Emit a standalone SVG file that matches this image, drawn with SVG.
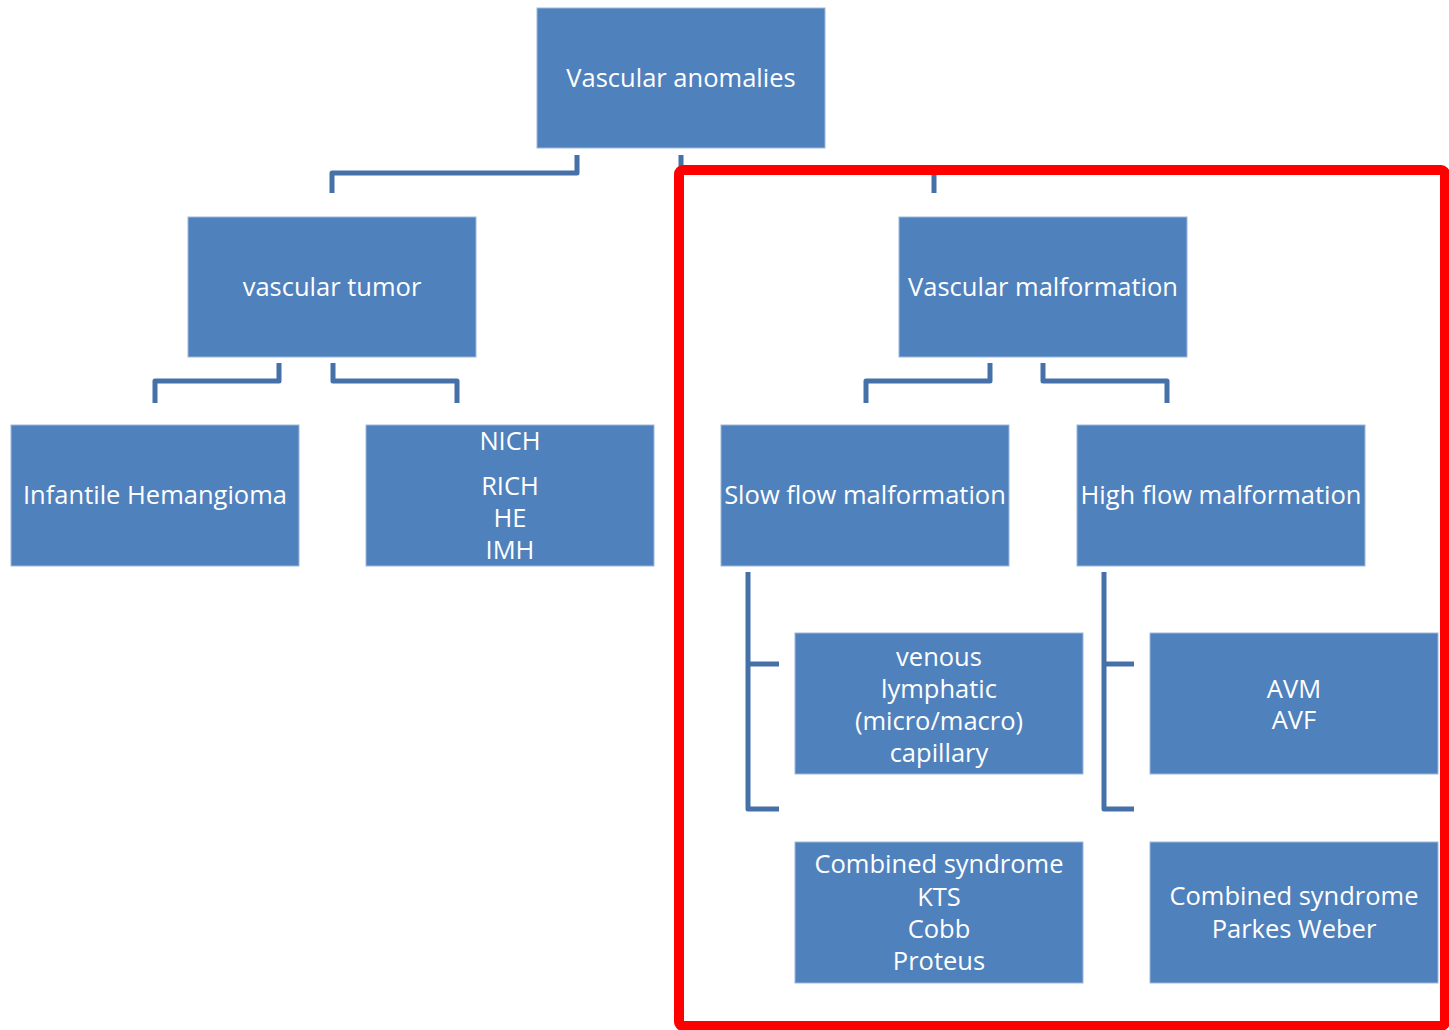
<svg xmlns="http://www.w3.org/2000/svg" width="1449" height="1030" viewBox="0 0 1449 1030">
<style>
.box{fill:#4F81BD;stroke:#9DB7DA;stroke-width:1}
.t{font-family:"Open Sans","Noto Sans",sans-serif;font-size:25.5px;fill:#FFFFFF;text-anchor:middle;dominant-baseline:central}
.c{fill:none;stroke:#4671A8;stroke-width:5;stroke-linejoin:round}
</style>
<rect width="1449" height="1030" fill="#FFFFFF"/>
<g id="connectors">
<path class="c" d="M577,155 V173 H332 V193"/>
<path class="c" d="M681,155 V172 H934 V193"/>
<path class="c" d="M279,363 V381 H155 V403"/>
<path class="c" d="M333,363 V381 H457 V403"/>
<path class="c" d="M990,363 V381 H866 V403"/>
<path class="c" d="M1043,363 V381 H1167 V403"/>
<path class="c" d="M748,572 V809 H779 M748,664 H779"/>
<path class="c" d="M1104,572 V809 H1134 M1104,664 H1134"/>
</g>
<g id="n-anomalies"><rect class="box" x="537" y="8" width="288" height="140"/><text class="t" x="681" y="77">Vascular anomalies</text></g>
<g id="n-tumor"><rect class="box" x="188" y="217" width="288" height="140"/><text class="t" x="332" y="286">vascular tumor</text></g>
<g id="n-malformation"><rect class="box" x="899" y="217" width="288" height="140"/><text class="t" x="1043" y="286">Vascular malformation</text></g>
<g id="n-infantile"><rect class="box" x="11" y="425" width="288" height="141"/><text class="t" x="155" y="494">Infantile Hemangioma</text></g>
<g id="n-nich"><rect class="box" x="366" y="425" width="288" height="141"/><text class="t" x="510" y="440">NICH</text><text class="t" x="510" y="485">RICH</text><text class="t" x="510" y="517">HE</text><text class="t" x="510" y="549">IMH</text></g>
<g id="n-slow"><rect class="box" x="721" y="425" width="288" height="141"/><text class="t" x="865" y="494">Slow flow malformation</text></g>
<g id="n-high"><rect class="box" x="1077" y="425" width="288" height="141"/><text class="t" x="1221" y="494">High flow malformation</text></g>
<g id="n-venous"><rect class="box" x="795" y="633" width="288" height="141"/><text class="t" x="939" y="656">venous</text><text class="t" x="939" y="688">lymphatic</text><text class="t" x="939" y="720">(micro/macro)</text><text class="t" x="939" y="752">capillary</text></g>
<g id="n-avm"><rect class="box" x="1150" y="633" width="288" height="141"/><text class="t" x="1294" y="688">AVM</text><text class="t" x="1294" y="719">AVF</text></g>
<g id="n-kts"><rect class="box" x="795" y="842" width="288" height="141"/><text class="t" x="939" y="863">Combined syndrome</text><text class="t" x="939" y="896">KTS</text><text class="t" x="939" y="928">Cobb</text><text class="t" x="939" y="960">Proteus</text></g>
<g id="n-parkes"><rect class="box" x="1150" y="842" width="288" height="141"/><text class="t" x="1294" y="895">Combined syndrome</text><text class="t" x="1294" y="928">Parkes Weber</text></g>
<g id="highlight"><rect x="679" y="170" width="766" height="856" rx="4" fill="none" stroke="#FF0000" stroke-width="10"/></g>
</svg>
